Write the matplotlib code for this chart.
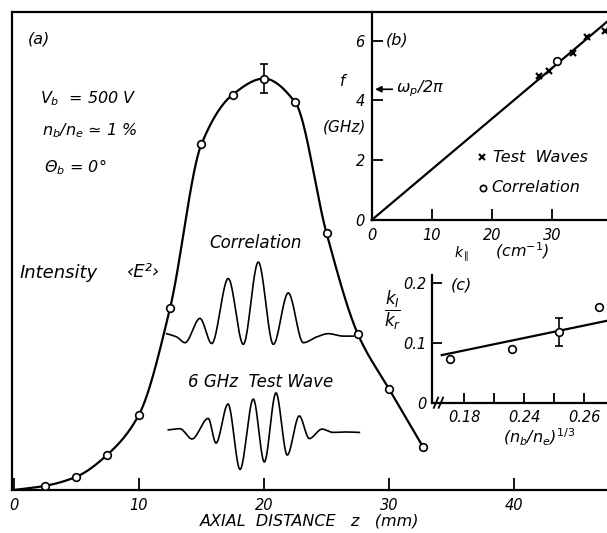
import numpy as np
import matplotlib
matplotlib.use("Agg")
import matplotlib.pyplot as plt

plt.rcParams['font.family'] = ['DejaVu Sans']
plt.rcParams['mathtext.fontset'] = 'dejavusans'

# ---------------- data ----------------
# (a) intensity profile (arbitrary units, peak = 100)
z_mm = [2.5, 5.0, 7.5, 10.0, 12.5, 15.0, 17.5, 20.0, 22.5, 25.0, 27.5, 30.0, 32.7]
intensity = [1.0, 3.2, 8.6, 18.2, 44.2, 84.0, 96.1, 100.0, 94.2, 62.4, 37.9, 24.5, 10.5]
curve_start = (0.0, 0.0)
err_z = 20.0
err_val = 100.0
err_size = 3.5

# correlation trace (drawn in panel a coordinates)
corr_z = [12.23, 13.03, 13.69, 14.89, 15.83, 17.15, 18.35, 19.55, 20.75, 21.94,
          23.14, 24.21, 25.14, 26.34, 27.14]
corr_v = [38.0, 37.2, 35.8, 41.7, 35.6, 51.4, 35.4, 55.4, 35.4, 47.9,
          35.8, 37.2, 38.0, 37.4, 37.4]

# 6 GHz test wave trace
wave_z = [12.36, 13.29, 14.25, 15.55, 16.17, 17.13, 18.09, 19.15, 20.03, 20.96,
          21.86, 22.82, 23.62, 24.64, 25.52, 26.48, 27.62]
wave_v = [14.6, 14.9, 12.4, 17.4, 11.4, 20.9, 5.0, 22.1, 6.8, 23.6,
          8.5, 18.0, 12.5, 14.8, 14.0, 14.1, 14.0]

main_xticks = [0, 10, 20, 30, 40]

# (b) dispersion
k_test = [27.9, 29.6, 33.6, 35.8, 38.9]
f_test = [4.80, 4.97, 5.58, 6.11, 6.33]
k_corr = [30.8]
f_corr = [5.30]
fit_b_k = [0.0, 39.4]
fit_b_f = [0.0, 6.66]
wp_f = 4.37
b_xticks = [0, 10, 20, 30]
b_yticks = [0, 2, 4, 6]

# (c) damping
nb_x = [0.1705, 0.2116, 0.2434, 0.2700]
ki_kr = [0.073, 0.090, 0.118, 0.160]
c_err_x = 0.2434
c_err_y = 0.118
c_err = 0.0235
fit_c_x = [0.165, 0.2751]
fit_c_y = [0.080, 0.137]
c_xticks = [0.18, 0.20, 0.22, 0.24, 0.26]
c_xticklabels = ["0.18", "", "0.24", "", "0.26"]
c_yticks = [0.0, 0.1, 0.2]
c_yticklabels = ["0", "0.1", "0.2"]


def pchip(x, y, n=500):
    x = np.asarray(x, float)
    y = np.asarray(y, float)
    h = np.diff(x)
    d = np.diff(y) / h
    m = np.zeros_like(y)
    for i in range(1, len(x) - 1):
        if d[i - 1] * d[i] <= 0:
            m[i] = 0.0
        else:
            w1 = 2 * h[i] + h[i - 1]
            w2 = h[i] + 2 * h[i - 1]
            m[i] = (w1 + w2) / (w1 / d[i - 1] + w2 / d[i])
    m[0] = d[0]
    m[-1] = d[-1]
    xs = np.linspace(x[0], x[-1], n)
    idx = np.clip(np.searchsorted(x, xs) - 1, 0, len(x) - 2)
    hh = h[idx]
    t = (xs - x[idx]) / hh
    h00 = 2 * t ** 3 - 3 * t ** 2 + 1
    h10 = t ** 3 - 2 * t ** 2 + t
    h01 = -2 * t ** 3 + 3 * t ** 2
    h11 = t ** 3 - t ** 2
    ys = h00 * y[idx] + h10 * hh * m[idx] + h01 * y[idx + 1] + h11 * hh * m[idx + 1]
    return xs, ys


W, H = 607, 533
fig = plt.figure(figsize=(W / 100, H / 100), dpi=100)


def px(x0, y0, x1, y1):
    return [x0 / W, 1 - y1 / H, (x1 - x0) / W, (y1 - y0) / H]


def ftext(x, y, s, **kw):
    kw.setdefault('style', 'italic')
    kw.setdefault('ha', 'left')
    kw.setdefault('va', 'center')
    kw.setdefault('fontsize', 11)
    fig.text(x / W, 1 - y / H, s, **kw)


LW = 1.6

# ---------------- main panel (a) ----------------
ax = fig.add_axes(px(12.3, 11.5, 607, 490))
ax.set_xlim(-0.1, 47.4)
ax.set_ylim(0, 116.3)
ax.spines['right'].set_visible(False)
for s in ['left', 'bottom', 'top']:
    ax.spines[s].set_linewidth(1.6)
ax.set_yticks([])
ax.set_xticks(main_xticks)
ax.set_xticklabels([str(v) for v in main_xticks])
ax.tick_params(axis='x', direction='in', length=9, width=1.3, labelsize=10.5, pad=6)
for lbl in ax.get_xticklabels():
    lbl.set_style('italic')
ax.set_xlabel("AXIAL  DISTANCE   z   (mm)", style='italic', fontsize=11.5, labelpad=0)

cz, cv = pchip([curve_start[0]] + z_mm, [curve_start[1]] + intensity)
ax.plot(cz, cv, color='k', lw=LW, zorder=2)
ax.errorbar([err_z], [err_val], yerr=[err_size], fmt='none', ecolor='k', elinewidth=1.2,
            capsize=3, capthick=1.2, zorder=3)
ax.plot(z_mm, intensity, 'o', ms=5.5, mfc='white', mec='k', mew=1.2, zorder=4)

tz, tv = pchip(corr_z, corr_v)
ax.plot(tz, tv, color='k', lw=1.2)
wz, wv = pchip(wave_z, wave_v)
ax.plot(wz, wv, color='k', lw=1.2)

ftext(28, 39, "(a)", fontsize=11.5)
ftext(40, 99, "$V_b$  = 500 V", fontsize=11.5)
ftext(42, 131, "$n_b$/$n_e$ ≃ 1 %", fontsize=11.5)
ftext(44, 167, "Θ$_b$ = 0°", fontsize=11.5)
ftext(20, 273, "Intensity", fontsize=13)
ftext(127, 272, "‹E²›", fontsize=13)
ftext(255.5, 243, "Correlation", ha='center', fontsize=12)
ftext(260.5, 382, "6 GHz  Test Wave", ha='center', fontsize=12)

# ---------------- inset (b) ----------------
axb = fig.add_axes(px(371.7, 11.5, 607, 220))
axb.set_facecolor('none')
axb.set_xlim(0, 39.2)
axb.set_ylim(0, 6.97)
axb.spines['right'].set_visible(False)
axb.spines['top'].set_visible(False)
for s in ['left', 'bottom']:
    axb.spines[s].set_linewidth(1.6)
axb.set_xticks(b_xticks)
axb.set_yticks(b_yticks)
axb.set_xticklabels([str(v) for v in b_xticks])
axb.set_yticklabels([str(v) for v in b_yticks])
axb.tick_params(direction='in', length=8, width=1.3, labelsize=10.5)
axb.tick_params(axis='x', pad=6)
axb.tick_params(axis='y', pad=5)
for lbl in axb.get_xticklabels() + axb.get_yticklabels():
    lbl.set_style('italic')
axb.plot(fit_b_k, fit_b_f, color='k', lw=LW, clip_on=False)
axb.plot(k_test, f_test, 'x', ms=4, mew=1.6, color='k', clip_on=False)
axb.plot(k_corr, f_corr, 'o', ms=5.5, mfc='white', mec='k', mew=1.2)
axb.annotate('', xy=(0.1, wp_f), xytext=(3.9, wp_f),
             arrowprops=dict(arrowstyle='-|>', lw=1.2, color='k', mutation_scale=9))
axb.plot([0.4675], [0.3036], 'x', ms=4, mew=1.5, color='k', transform=axb.transAxes)
axb.plot([0.471], [0.1535], 'o', ms=4.5, mfc='white', mec='k', mew=1.2, transform=axb.transAxes)
ftext(493, 157, "Test  Waves", fontsize=11.5)
ftext(491, 188, "Correlation", fontsize=11.5)
ftext(386, 40, "(b)", fontsize=11.5)
ftext(396, 89, "ω$_p$/2π", fontsize=11.5)
ftext(343, 82, "f", ha='center')
ftext(345, 127, "(GHz)", ha='center')
ftext(462, 254, r"$k_{\parallel}$", ha='center', fontsize=10)
ftext(522, 251, "(cm$^{-1}$)", ha='center', fontsize=11.5)

# ---------------- inset (c) ----------------
axc = fig.add_axes(px(431.7, 275, 607, 403.3))
axc.set_facecolor('none')
axc.set_xlim(0.1583, 0.2751)
axc.set_ylim(0, 0.213)
axc.spines['right'].set_visible(False)
axc.spines['top'].set_visible(False)
for s in ['left', 'bottom']:
    axc.spines[s].set_linewidth(1.6)
axc.set_xticks(c_xticks)
axc.set_xticklabels(c_xticklabels)
axc.set_yticks(c_yticks)
axc.set_yticklabels(c_yticklabels)
axc.tick_params(direction='in', length=7, width=1.3, labelsize=10.5)
axc.tick_params(axis='x', pad=5)
axc.tick_params(axis='y', pad=4)
for lbl in axc.get_xticklabels() + axc.get_yticklabels():
    lbl.set_style('italic')
axc.plot(fit_c_x, fit_c_y, color='k', lw=LW, clip_on=False)
axc.errorbar([c_err_x], [c_err_y], yerr=[c_err], fmt='none', ecolor='k', elinewidth=1.2,
             capsize=3, capthick=1.2)
axc.plot(nb_x, ki_kr, 'o', ms=5.5, mfc='white', mec='k', mew=1.2, clip_on=False)
for x0 in (0.012, 0.04):
    axc.plot([x0, x0 + 0.025], [-0.035, 0.045], color='k', lw=1.3,
             transform=axc.transAxes, clip_on=False)
ftext(451, 285, "(c)", fontsize=11.5)
ftext(393, 310, r"$\dfrac{k_I}{k_r}$", ha='center', fontsize=12)
ftext(539, 437, "($n_b$/$n_e$)$^{1/3}$", ha='center', fontsize=11.5)

fig.savefig("out.png", dpi=100)
